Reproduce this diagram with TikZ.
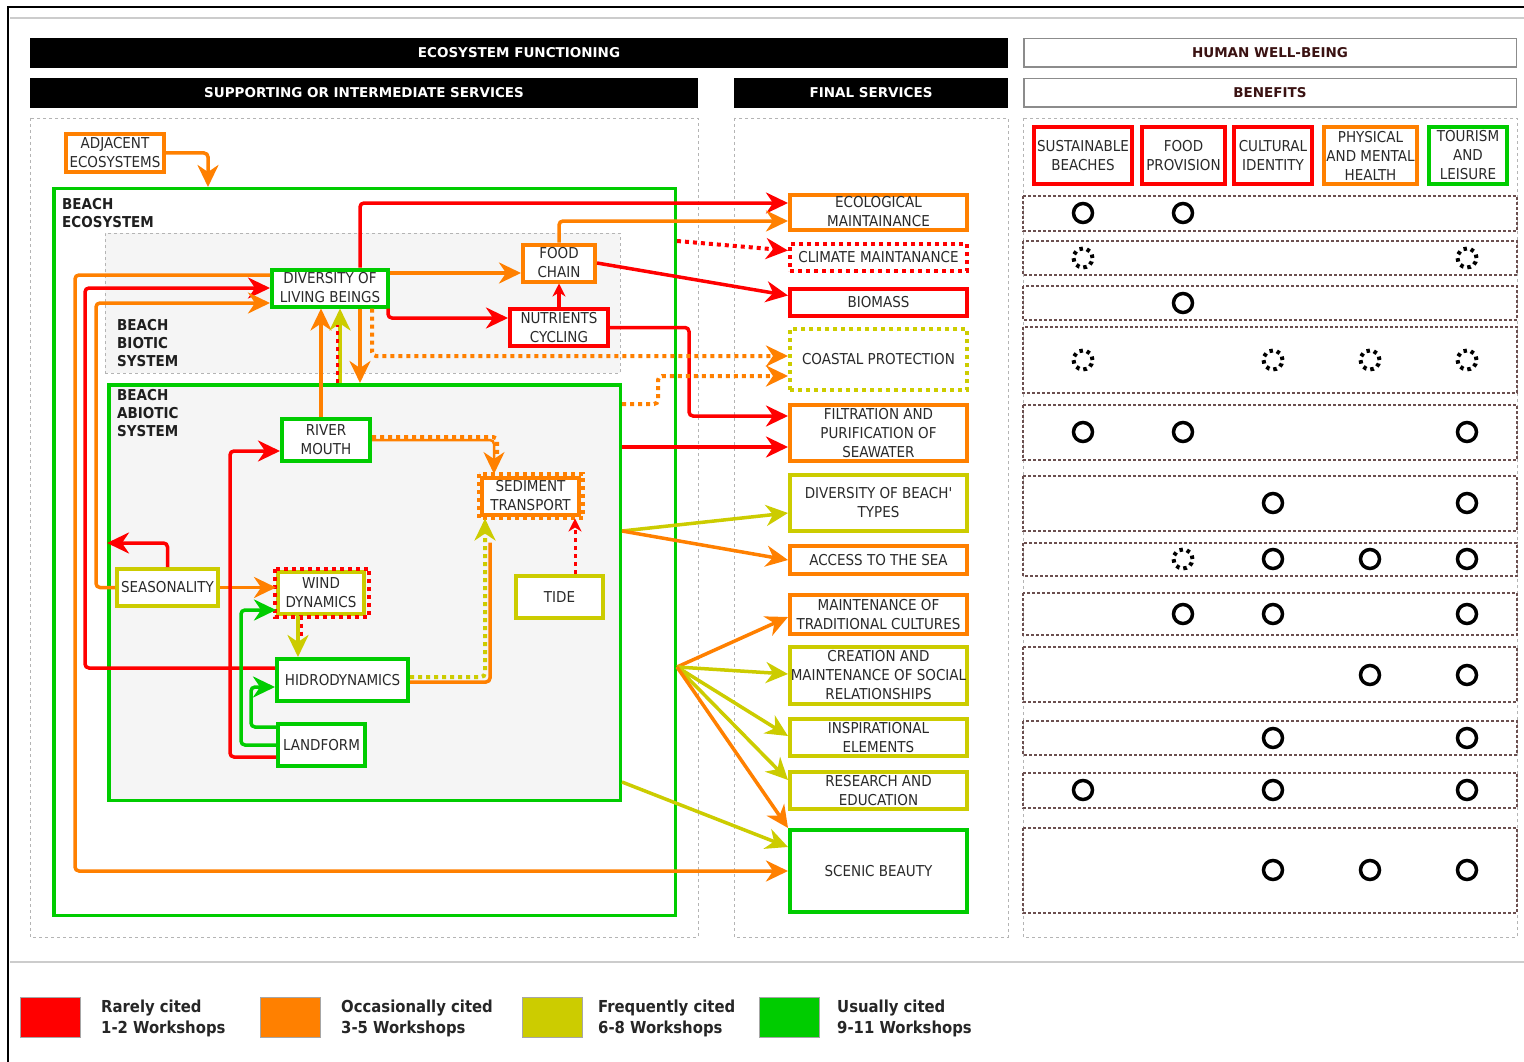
\documentclass[tikz,border=0pt]{standalone}
\usepackage{fontspec}
\setmainfont{DejaVu Sans Condensed}
\newfontfamily\hdrfont{DejaVu Sans}
\usepackage{tikz}
\usetikzlibrary{arrows.meta}
\definecolor{cred}{HTML}{FF0000}
\definecolor{corange}{HTML}{FF8000}
\definecolor{cyellow}{HTML}{CCCC00}
\definecolor{cgreen}{HTML}{00CC00}
\definecolor{txtgray}{HTML}{2A2A2A}
\definecolor{panelgray}{HTML}{B4B4B4}
\definecolor{rowbrown}{HTML}{6B4F4F}
\definecolor{bggray}{HTML}{F5F5F5}
\definecolor{hwbtext}{HTML}{3A1212}
\newcommand\svcfont{\fontsize{15}{19}\selectfont}
\newcommand\lblfont{\fontsize{15}{18}\selectfont\bfseries}
\newcommand\hdrsize{\hdrfont\fontsize{13.5}{16}\selectfont\bfseries}
\newcommand\keyfont{\fontsize{16.5}{21}\selectfont\bfseries}

\begin{document}
\begin{tikzpicture}[x=1pt,y=-1pt,
  box/.style={draw,fill=white,line width=4pt,inner sep=0pt,align=center,
              font=\svcfont,text=txtgray},
  redbox/.style={box,draw=cred},
  orabox/.style={box,draw=corange},
  yelbox/.style={box,draw=cyellow},
  grnbox/.style={box,draw=cgreen},
  svc/.style={minimum width=177pt},
  dotbox/.style={line width=4pt,dash pattern=on 4pt off 4pt},
  hdr/.style={fill=black,text=white,font=\hdrsize,minimum height=30pt,inner sep=0pt},
  hwb/.style={draw=black!45,line width=1.5pt,fill=white,text=hwbtext,font=\hdrsize,
              minimum height=28.5pt,minimum width=492.5pt,inner sep=0pt},
  panel/.style={draw=panelgray,dashed,line width=0.8pt},
  lbl/.style={anchor=north west,align=left,inner sep=0pt,font=\lblfont,text=black!88},
  conn/.style={line width=3.5pt,rounded corners=4pt,
               -{Stealth[length=22pt,width=21pt,inset=7pt]}},
  smalltip/.style={-{Stealth[length=13pt,width=13pt,inset=4pt]}},
  rarr/.style={conn,draw=cred},
  oarr/.style={conn,draw=corange},
  yarr/.style={conn,draw=cyellow},
  garr/.style={conn,draw=cgreen},
  dotline/.style={dash pattern=on 4pt off 4pt,line width=4pt},
  wire/.style={line width=3.5pt,rounded corners=4pt},
  rowbox/.style={draw=rowbrown,dash pattern=on 3pt off 2pt,line width=1.2pt},
  hit/.style={draw=black,line width=3.5pt},
  maybe/.style={draw=black,line width=4pt,dash pattern=on 3.5pt off 3.96pt},
  swatch/.style={minimum width=60pt,minimum height=40pt,inner sep=0pt,
                 draw=black!35,line width=0.5pt},
  keytext/.style={anchor=west,align=left,inner sep=0pt,font=\keyfont,text=black!85}
]
\useasboundingbox[fill=white] (0,0) rectangle (1524,1062);

% frame of the figure
\draw[black,line width=2pt] (8,1062) -- (8,7) -- (1524,7);
\draw[black!20,line width=1.5pt] (10,18) -- (1524,18);
\draw[black!20,line width=1.5pt] (10,962) -- (1524,962);

% headers
\node[hdr,minimum width=978pt] (ef) at (519,53) {ECOSYSTEM FUNCTIONING};
\node[hdr,minimum width=668pt] (sis) at (364,93) {SUPPORTING OR INTERMEDIATE SERVICES};
\node[hdr,minimum width=274pt] (fs) at (871,93) {FINAL SERVICES};
\node[hwb] (hw) at (1270,53) {HUMAN WELL-BEING};
\node[hwb] (bn) at (1270,93) {BENEFITS};

% panels
\draw[panel] (30,118) rectangle (698,937);
\draw[panel] (734,118) rectangle (1008,937);
\draw[panel] (1023,118) rectangle (1517,937);

% systems
\node[draw=cgreen,line width=3.5pt,minimum width=621.5pt,minimum height=726.5pt,
      inner sep=0pt] (beach) at (364.5,552) {};
\node[panel,fill=bggray,minimum width=515pt,minimum height=140pt,
      inner sep=0pt] (biotic) at (362.5,303) {};
\node[draw=cgreen,fill=bggray,line width=3.5pt,minimum width=511.5pt,
      minimum height=415.5pt,inner sep=0pt] (abio) at (364.5,592.5) {};
\node[lbl] (beachlbl) at (62,198) {BEACH\\ECOSYSTEM};
\node[lbl] (biolbl) at (117,319) {BEACH\\BIOTIC\\SYSTEM};
\node[lbl] (abiolbl) at (117,389) {BEACH\\ABIOTIC\\SYSTEM};

% supporting services
\node[orabox,minimum width=98pt,minimum height=38pt] (adj) at (115,153) {ADJACENT\\ECOSYSTEMS};
\node[grnbox,minimum width=116pt,minimum height=37pt] (div) at (330,288) {DIVERSITY OF\\LIVING BEINGS};
\node[orabox,minimum width=72pt,minimum height=37pt] (food) at (559,263) {FOOD\\CHAIN};
\node[redbox,minimum width=98pt,minimum height=37pt] (nut) at (559,327.5) {NUTRIENTS\\CYCLING};
\node[grnbox,minimum width=88pt,minimum height=42pt] (river) at (326,440) {RIVER\\MOUTH};
\node[orabox,minimum width=97pt,minimum height=37pt] (sed) at (530.5,496) {SEDIMENT\\TRANSPORT};
\draw[corange,dotbox] ([xshift=-1.5pt,yshift=1.5pt]sed.north west) rectangle ([xshift=1.5pt,yshift=-1.5pt]sed.south east);
\node[yelbox,minimum width=86pt,minimum height=42pt] (wind) at (321,592.5) {WIND\\DYNAMICS};
\draw[cred,dotbox] ([xshift=-1.5pt,yshift=1pt]wind.north west) rectangle ([xshift=3pt,yshift=-1pt]wind.south east);
\node[yelbox,minimum width=101pt,minimum height=37pt] (seas) at (167.5,587.5) {SEASONALITY};
\node[yelbox,minimum width=87pt,minimum height=42pt] (tide) at (559.5,597) {TIDE};
\node[grnbox,minimum width=131pt,minimum height=42pt] (hidro) at (342.5,680) {HIDRODYNAMICS};
\node[grnbox,minimum width=87pt,minimum height=42pt] (land) at (321.5,745) {LANDFORM};

% final services
\node[orabox,svc,minimum height=35pt] (eco) at (878.5,212) {ECOLOGICAL\\MAINTAINANCE};
\node[box,draw=cred,dotbox,svc,minimum height=27pt] (clim) at (878.5,257.5) {CLIMATE MAINTANANCE};
\node[redbox,svc,minimum height=27pt] (bio) at (878.5,302.5) {BIOMASS};
\node[box,draw=cyellow,dotbox,svc,minimum height=61pt] (coast) at (878.5,359.5) {COASTAL PROTECTION};
\node[orabox,svc,minimum height=56pt] (filt) at (878.5,433) {FILTRATION AND\\PURIFICATION OF\\SEAWATER};
\node[yelbox,svc,minimum height=56pt] (dbt) at (878.5,503) {DIVERSITY OF BEACH\textquotesingle\\TYPES};
\node[orabox,svc,minimum height=28pt] (acc) at (878.5,560) {ACCESS TO THE SEA};
\node[orabox,svc,minimum height=39pt] (trad) at (878.5,614.5) {MAINTENANCE OF\\TRADITIONAL CULTURES};
\node[yelbox,svc,minimum height=57pt] (soc) at (878.5,675.5) {CREATION AND\\MAINTENANCE OF SOCIAL\\RELATIONSHIPS};
\node[yelbox,svc,minimum height=37pt] (insp) at (878.5,737.5) {INSPIRATIONAL\\ELEMENTS};
\node[yelbox,svc,minimum height=37pt] (res) at (878.5,790.5) {RESEARCH AND\\EDUCATION};
\node[grnbox,svc,minimum height=82pt] (scen) at (878.5,871) {SCENIC BEAUTY};

% benefits
\node[redbox,minimum width=98pt,minimum height=57pt] (sb) at (1083,155.5) {SUSTAINABLE\\BEACHES};
\node[redbox,minimum width=83pt,minimum height=57pt] (fp) at (1183.5,155.5) {FOOD\\PROVISION};
\node[redbox,minimum width=78pt,minimum height=57pt] (ci) at (1273,155.5) {CULTURAL\\IDENTITY};
\node[orabox,minimum width=93pt,minimum height=57pt] (pm) at (1370.5,155.5) {PHYSICAL\\AND MENTAL\\HEALTH};
\node[grnbox,minimum width=78pt,minimum height=57pt] (tl) at (1468,155.5) {TOURISM\\AND\\LEISURE};

% ecosystem -> final services
\draw[oarr] (adj.east) -| ([xshift=-156.5pt]beach.north);
\draw[rarr] ([xshift=30pt]div.north) |- ([yshift=9pt]eco.west);
\draw[oarr] (food.north) |- ([yshift=-9pt]eco.west);
\draw[rarr,dotline] ([yshift=311pt]beach.east) -- ([yshift=7pt]clim.west);
\draw[rarr] (food.east) -- ([yshift=7pt]bio.west);
\draw[rarr] (nut.east) -- ([xshift=79pt]nut.east) |- ([yshift=17pt]filt.west);
\draw[rarr] ([yshift=145.5pt]abio.east) -- ([yshift=-14pt]filt.west);
\draw[oarr,dotline] ([xshift=42pt]div.south) |- ([yshift=3.5pt]coast.west);
\draw[oarr,dotline] ([yshift=188.5pt]abio.east) -- ([xshift=36pt,yshift=188.5pt]abio.east) |- ([yshift=-16.5pt]coast.west);

% inside the biotic system
\draw[oarr] ([yshift=15pt]div.east) -- ([yshift=-10pt]food.west);
\draw[rarr] ([xshift=58pt]div.south) |- ([yshift=9.5pt]nut.west);
\draw[rarr,smalltip] (nut.north) -- (food.south);

% biotic <-> abiotic
\draw[oarr] ([xshift=30pt]div.south) -- ([xshift=-4.5pt]abio.north);
\draw[oarr] ([xshift=-5pt]river.north) -- ([xshift=-9pt]div.south);
\draw[yarr] ([xshift=-24.5pt]abio.north) -- ([xshift=10pt]div.south);
\draw[cred,dotline,line width=3pt] ([xshift=-27.5pt]abio.north) -- ([xshift=7pt,yshift=-16pt]div.south);

% long loops on the left
\draw[oarr] ([yshift=13pt]div.west) -| ([xshift=23pt]beach.west) |- (scen.west);
\draw[rarr] ([yshift=12pt]hidro.west) -| ([xshift=33pt]beach.west) |- (div.west);
\draw[oarr] (seas.west) -| ([xshift=44pt]beach.west) |- ([yshift=-15pt]div.west);

% inside the abiotic system
\draw[rarr] (seas.north) |- ([yshift=49.5pt]abio.west);
\draw[oarr] (seas.east) -- ([yshift=5pt]wind.west);
\draw[rarr] ([yshift=-12pt]land.west) -| ([xshift=-50pt,yshift=-11pt]river.west) -- ([yshift=-11pt]river.west);
\draw[garr] (land.west) -| ([xshift=-35pt,yshift=-17.5pt]wind.west) -- ([yshift=-17.5pt]wind.west);
\draw[garr] ([yshift=18pt]land.west) -| ([xshift=-24pt,yshift=-7pt]hidro.west) -- ([yshift=-7pt]hidro.west);
\draw[yarr] ([xshift=-23pt]wind.south) -- ([xshift=-44.5pt]hidro.north);
\draw[cred,dotline,line width=3pt] ([xshift=-20pt]wind.south) -- ([xshift=-41.5pt,yshift=19pt]hidro.north);
\draw[oarr,line width=2.5pt] (river.east) -| ([xshift=-36.5pt,yshift=1.5pt]sed.north);
\draw[corange,dotline,rounded corners=4pt] ([yshift=3pt]river.east) -| ([xshift=-33.5pt,yshift=20pt]sed.north);
\draw[corange,wire] ([yshift=-2pt]hidro.east) -| ([xshift=-40.5pt,yshift=-26pt]sed.south);
\draw[yarr,dotline] ([yshift=3pt]hidro.east) -| ([xshift=-45.5pt,yshift=-2pt]sed.south);
\draw[rarr,dotline,line width=3pt,smalltip] ([xshift=15.5pt]tide.north) -- ([xshift=44.5pt,yshift=-2pt]sed.south);

% abiotic and beach -> cultural services
\draw[yarr] ([yshift=61.5pt]abio.east) -- ([yshift=-10pt]dbt.west);
\draw[oarr] ([yshift=61.5pt]abio.east) -- (acc.west);
\draw[oarr] ([yshift=-115pt]beach.east) -- ([yshift=-2.5pt]trad.west);
\draw[yarr] ([yshift=-115pt]beach.east) -- ([yshift=1.5pt]soc.west);
\draw[yarr] ([yshift=-115pt]beach.east) -- ([yshift=1.5pt]insp.west);
\draw[yarr] ([yshift=-115pt]beach.east) -- ([yshift=10.5pt]res.west);
\draw[oarr] ([yshift=-115pt]beach.east) -- (scen.north west);
\draw[yarr] ([yshift=-189.5pt]abio.east) -- ([yshift=24pt]scen.west);

% benefit rows
\draw[rowbox] (1023,196) rectangle (1517,231);
\draw[rowbox] (1023,241) rectangle (1517,275);
\draw[rowbox] (1023,286) rectangle (1517,320);
\draw[rowbox] (1023,327) rectangle (1517,393);
\draw[rowbox] (1023,405) rectangle (1517,460);
\draw[rowbox] (1023,476) rectangle (1517,531);
\draw[rowbox] (1023,543) rectangle (1517,576);
\draw[rowbox] (1023,593) rectangle (1517,635);
\draw[rowbox] (1023,647) rectangle (1517,702);
\draw[rowbox] (1023,721) rectangle (1517,755);
\draw[rowbox] (1023,773) rectangle (1517,808);
\draw[rowbox] (1023,828) rectangle (1517,913);

% links service -> benefit
\draw[hit] (1083,213) circle (9.5pt) (1183,213) circle (9.5pt);
\draw[maybe] (1083,258) circle (9.5pt) (1467,258) circle (9.5pt);
\draw[hit] (1183,303) circle (9.5pt);
\draw[maybe] (1083,360) circle (9.5pt) (1273,360) circle (9.5pt) (1370,360) circle (9.5pt) (1467,360) circle (9.5pt);
\draw[hit] (1083,432) circle (9.5pt) (1183,432) circle (9.5pt) (1467,432) circle (9.5pt);
\draw[hit] (1273,503) circle (9.5pt) (1467,503) circle (9.5pt);
\draw[maybe] (1183,559) circle (9.5pt);
\draw[hit] (1273,559) circle (9.5pt) (1370,559) circle (9.5pt) (1467,559) circle (9.5pt);
\draw[hit] (1183,614) circle (9.5pt) (1273,614) circle (9.5pt) (1467,614) circle (9.5pt);
\draw[hit] (1370,675) circle (9.5pt) (1467,675) circle (9.5pt);
\draw[hit] (1273,738) circle (9.5pt) (1467,738) circle (9.5pt);
\draw[hit] (1083,790) circle (9.5pt) (1273,790) circle (9.5pt) (1467,790) circle (9.5pt);
\draw[hit] (1273,870) circle (9.5pt) (1370,870) circle (9.5pt) (1467,870) circle (9.5pt);

% legend
\node[swatch,fill=cred] (k1) at (50,1017) {};
\node[keytext] (k1t) at (101,1018) {Rarely cited\\1-2 Workshops};
\node[swatch,fill=corange] (k2) at (290,1017) {};
\node[keytext] (k2t) at (341,1018) {Occasionally cited\\3-5 Workshops};
\node[swatch,fill=cyellow] (k3) at (552,1017) {};
\node[keytext] (k3t) at (598,1018) {Frequently cited\\6-8 Workshops};
\node[swatch,fill=cgreen] (k4) at (789,1017) {};
\node[keytext] (k4t) at (837,1018) {Usually cited\\9-11 Workshops};

\end{tikzpicture}
\end{document}
